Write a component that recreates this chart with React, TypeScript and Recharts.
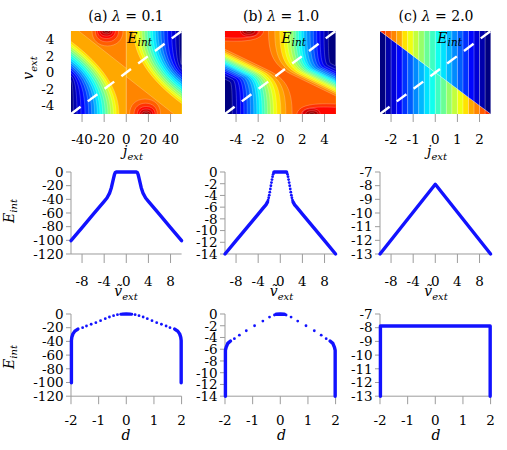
import React from 'react';
import { ScatterChart, Scatter, XAxis, YAxis } from 'recharts';

const SERIF = '"DejaVu Serif", serif';
const GRAY = '#9c9c9c';
const BLUE = '#1212ff';

// discrete jet palette: level 0 (navy) ... 23 (dark red)
const JET = ['#000080', '#0000ac', '#0000d8', '#0006ff', '#0032ff', '#005eff', '#008bff', '#00b7ff', '#00e3ff', '#11ffee', '#3dffc2', '#69ff96', '#96ff69', '#c2ff3d', '#eeff11', '#ffe300', '#ffa800', '#ff8500', '#ff5e00', '#ff3200', '#ff0600', '#d80000', '#ac0000', '#800000'];

type P3 = [number, number, number];
type Region = { level: number; pts: P3[] };

// ---------------- (a) lambda = 0.1 : j_ext in [-50,50], v_ext in [-5,5]
const aJ: [number, number] = [-50, 50];
const aV: [number, number] = [-5, 5];
// contour levels 1..16, left half (j < 0): crossing of left edge, foot on bottom edge, bend height
const aLowEdgeV = [-0.93, -0.4, -0.04, 0.28, 0.57, 0.85, 1.14, 1.42, 1.71, 2.0, 2.28, 2.56, 2.85, 3.13, 3.41, 3.74];
const aLowFootJ = [-47.9, -44.6, -41.0, -37.3, -34.0, -31.3, -28.6, -26.2, -23.8, -21.4, -19.0, -16.6, -14.2, -11.7, -9.3, -6.6];
const aLowBendV = [-1.14, -0.94, -0.94, -0.99, -1.03, -1.02, -1.0, -0.96, -0.91, -0.86, -0.82, -0.78, -0.73, -0.7, -0.66, -0.6];
// contour levels 1..16, right half (j > 0): crossing of right edge, head on top edge, bend height
const aHighEdgeV = [0.93, 0.4, 0.04, -0.28, -0.57, -0.85, -1.14, -1.42, -1.71, -2.0, -2.28, -2.56, -2.85, -3.13, -3.41, -3.74];
const aHighHeadJ = [47.9, 44.6, 41.0, 37.3, 34.0, 31.3, 28.6, 26.2, 23.8, 21.4, 19.0, 16.6, 14.2, 11.7, 9.3, 6.6];
const aHighBendV = [1.14, 0.94, 0.94, 0.99, 1.03, 1.02, 1.0, 0.96, 0.91, 0.86, 0.82, 0.78, 0.73, 0.7, 0.66, 0.6];
// level 17 plateau edges
const aRidgeLeft = [[-43, 5], [0, 0.5]];
const aRidgeRight = [[0, -0.5], [43, -5]];
// levels 18..23 peaks: [from j, to j, depth v]
const aPeaksTop = [[-31, -3, 3.2], [-28, -7, 3.7], [-26, -10, 4.1], [-24, -12, 4.4], [-22, -14, 4.65], [-20, -16, 4.85]];
const aPeaksBottom = [[3, 31, -3.2], [7, 28, -3.7], [10, 26, -4.1], [12, 24, -4.4], [14, 22, -4.65], [16, 20, -4.85]];
const aDash = [[-50, -5], [50, 5]];

// ---------------- (b) lambda = 1.0 : j_ext in [-5,5], v_ext in [-5,5]
const bJ: [number, number] = [-5, 5];
const bV: [number, number] = [-5, 5];
const bLowEdgeV = [-0.8, -0.4, -0.1, 0.15, 0.35, 0.55, 0.77, 0.95, 1.1, 1.28, 1.45, 1.62, 1.79, 1.95, 2.15, 2.35, 2.55, 2.8];
const bLowFootJ = [-4.34, -3.95, -3.59, -3.29, -2.99, -2.69, -2.39, -2.12, -1.88, -1.64, -1.4, -1.16, -0.89, -0.62, -0.32, 0.05, 0.5, 1.07];
const bLowBendV = [-1.23, -1.08, -1.02, -0.96, -0.96, -0.95, -0.93, -0.92, -0.93, -0.9, -0.89, -0.88, -0.88, -0.9, -0.89, -0.91, -1.0, -1.12];
const bHighEdgeV = [0.8, 0.4, 0.1, -0.15, -0.35, -0.55, -0.77, -0.95, -1.1, -1.28, -1.45, -1.62, -1.79, -1.95, -2.15, -2.35, -2.55, -2.8];
const bHighHeadJ = [4.34, 3.95, 3.59, 3.29, 2.99, 2.69, 2.39, 2.12, 1.88, 1.64, 1.4, 1.16, 0.89, 0.62, 0.32, -0.05, -0.5, -1.07];
const bHighBendV = [1.23, 1.08, 1.02, 0.96, 0.96, 0.95, 0.93, 0.92, 0.93, 0.9, 0.89, 0.88, 0.88, 0.9, 0.89, 0.91, 1.0, 1.12];
// levels 19, 20 corner lobes: [edge j on top/bottom, bend j, bend v, side edge v]
const bLobeTop = [[-1.5, -1.7, 3.6, 3.8], [-1.9, -2.0, 4.0, 4.2]];
const bLobeBottom = [[1.5, 1.7, -3.6, -3.8], [1.9, 2.0, -4.0, -4.2]];
// levels 21..23 peaks
const bPeaksTop = [[-3.6, -2.0, 4.35], [-3.4, -2.3, 4.6], [-3.1, -2.6, 4.85]];
const bPeaksBottom = [[2.0, 3.6, -4.35], [2.3, 3.4, -4.6], [2.6, 3.1, -4.85]];
const bDash = [[-5, -5], [5, 5]];

// ---------------- (c) lambda = 2.0 : j_ext in [-2.5,2.5], v_ext in [-5,5]
const cJ: [number, number] = [-2.5, 2.5];
const cV: [number, number] = [-5, 5];
const cEdges = [-2.5, -2.25, -2, -1.75, -1.5, -1.25, -1, -0.75, -0.5, -0.25, 0, 0.25, 0.5, 0.75, 1, 1.25, 1.5, 1.75, 2, 2.25, 2.5];
const cBelow = [0, 1, 2, 3, 4, 5, 6, 7, 8, 9, 10, 11, 12, 13, 14, 15, 16, 17, 18, 19];
const cAbove = [19, 18, 17, 16, 15, 14, 13, 12, 11, 10, 9, 8, 7, 6, 5, 4, 3, 2, 1, 0];
const cSplit = [[-2.5, 5], [2.5, -5]];
const cDash = [[-2.5, -5], [2.5, 5]];

// ---------------- E_int curves against v~_ext
const midALine = [[-10, -100.5], [-8, -81.3], [-6, -62.1], [-4, -42.9], [-3.5, -38], [-3, -30.5], [-2.7, -23], [-2.5, -16], [-2.3, -9], [-2.15, -4], [-2, -1], [-1.85, 0], [1.85, 0], [2, -1], [2.15, -4], [2.3, -9], [2.5, -16], [2.7, -23], [3, -30.5], [3.5, -38], [4, -42.9], [6, -62.1], [8, -81.3], [10, -100.5]];
const midBLeft = [[-10, -14], [-8, -11.73], [-6, -9.46], [-4, -7.19], [-3, -6.05], [-2.6, -5.6], [-2.3, -5.1]];
const midBTop = [[-1.12, 0], [1.12, 0]];
const midBRight = [[2.3, -5.1], [2.6, -5.6], [3, -6.05], [4, -7.19], [6, -9.46], [8, -11.73], [10, -14]];
const midBDots = [[-2.2, -4.8], [-2.1, -4.4], [-2.0, -3.95], [-1.9, -3.45], [-1.8, -2.9], [-1.7, -2.35], [-1.6, -1.8], [-1.5, -1.3], [-1.4, -0.8], [-1.3, -0.4], [-1.2, -0.12], [1.2, -0.12], [1.3, -0.4], [1.4, -0.8], [1.5, -1.3], [1.6, -1.8], [1.7, -2.35], [1.8, -2.9], [1.9, -3.45], [2.0, -3.95], [2.1, -4.4], [2.2, -4.8]];
const midCLine = [[-10, -13], [0, -7.9], [10, -13]];

// ---------------- E_int against d
const botALeft = [[-1.985, -100.5], [-1.985, -38.8], [-1.97, -34], [-1.93, -29], [-1.86, -25], [-1.75, -22]];
const botARight = [[1.75, -22], [1.86, -25], [1.93, -29], [1.97, -34], [1.985, -38.8], [1.985, -100.5]];
const botATop = [[-0.15, -0.15], [0, 0], [0.15, -0.15]];
const botADots = [[-1.58, -19.9], [-1.44, -17.5], [-1.27, -15], [-1.1, -12.6], [-0.93, -9.7], [-0.76, -6.8], [-0.61, -4.4], [-0.46, -2.4], [-0.32, -1.0], [-0.2, -0.4], [0.2, -0.4], [0.32, -1.0], [0.46, -2.4], [0.61, -4.4], [0.76, -6.8], [0.93, -9.7], [1.1, -12.6], [1.27, -15], [1.44, -17.5], [1.58, -19.9]];
const botBLeft = [[-1.985, -14], [-1.985, -6.2], [-1.96, -5.67], [-1.9, -5.0], [-1.8, -4.6]];
const botBRight = [[1.8, -4.6], [1.9, -5.0], [1.96, -5.67], [1.985, -6.2], [1.985, -14]];
const botBTop = [[-0.15, -0.05], [0, 0], [0.15, -0.05]];
const botBDots = [[-1.66, -4.2], [-1.48, -3.6], [-1.23, -2.85], [-0.93, -2.0], [-0.63, -1.2], [-0.39, -0.52], [-0.21, -0.17], [0.21, -0.17], [0.39, -0.52], [0.63, -1.2], [0.93, -2.0], [1.23, -2.85], [1.48, -3.6], [1.66, -4.2]];
const botCLine = [[-1.985, -13], [-1.985, -7.88], [1.985, -7.88], [1.985, -13]];

// ---------------- tick values
const aJTicks = [-40, -20, 0, 20, 40];
const bJTicks = [-4, -2, 0, 2, 4];
const cJTicks = [-2, -1, 0, 1, 2];
const vTicks = [-4, -2, 0, 2, 4];
const vtTicks = [-8, -4, 0, 4, 8];
const dTicks = [-2, -1, 0, 1, 2];
const eTicksA = [-120, -100, -80, -60, -40, -20, 0];
const eTicksB = [-14, -12, -10, -8, -6, -4, -2, 0];
const eTicksC = [-13, -12, -11, -10, -9, -8, -7];

// ---------------- region construction
function rect(j: [number, number], v: [number, number]): P3[] {
  return [[j[0], v[0], 0], [j[1], v[0], 0], [j[1], v[1], 0], [j[0], v[1], 0]];
}
function peak(jA: number, jB: number, d: number, edge: number): P3[] {
  return [[jA, edge, 0], [jA, d, 0.6], [(jA + jB) / 2, d, 0], [jB, d, 0.6], [jB, edge, 0]];
}
// straight run from s toward the bend c, then a rounded turn into e
function bentContour(s: number[], c: number[], e: number[], run: number, a: number): P3[] {
  const d = [c[0] + run * (s[0] - c[0]), c[1] + run * (s[1] - c[1])];
  return [[s[0], s[1], 0], [d[0], d[1], 0], [c[0], c[1], a], [e[0], e[1], 0]];
}

const aRegions: Region[] = [{ level: 0, pts: rect(aJ, aV) }];
aLowEdgeV.forEach((ev, i) => {
  aRegions.push({ level: i + 1, pts: [[aJ[0], aV[1], 0], [aJ[0], ev, 0], [aLowFootJ[i], aLowBendV[i], 0.67], [aLowFootJ[i], aV[0], 0], [0, aV[0], 0], [0, aV[1], 0]] });
  aRegions.push({ level: i + 1, pts: [[0, aV[1], 0], [aHighHeadJ[i], aV[1], 0], [aHighHeadJ[i], aHighBendV[i], 0.67], [aJ[1], aHighEdgeV[i], 0], [aJ[1], aV[0], 0], [0, aV[0], 0]] });
});
aRegions.push({ level: 17, pts: [[aRidgeLeft[0][0], aRidgeLeft[0][1], 0], [aRidgeLeft[1][0], aRidgeLeft[1][1], 0], [0, aV[1], 0]] });
aRegions.push({ level: 17, pts: [[aRidgeRight[0][0], aRidgeRight[0][1], 0], [aRidgeRight[1][0], aRidgeRight[1][1], 0], [0, aV[0], 0]] });
aPeaksTop.forEach((p, i) => {
  aRegions.push({ level: 18 + i, pts: peak(p[0], p[1], p[2], aV[1]) });
  const q = aPeaksBottom[i];
  aRegions.push({ level: 18 + i, pts: peak(q[0], q[1], q[2], aV[0]) });
});

const bRegions: Region[] = [{ level: 0, pts: rect(bJ, bV) }];
bLowEdgeV.forEach((ev, i) => {
  const lower = bentContour([bJ[0], ev], [bLowFootJ[i], bLowBendV[i]], [bLowFootJ[i], bV[0]], 0.35, 0.75);
  const upper = bentContour([bJ[1], bHighEdgeV[i]], [bHighHeadJ[i], bHighBendV[i]], [bHighHeadJ[i], bV[1]], 0.35, 0.75);
  bRegions.push({ level: i + 1, pts: [[bJ[0], bV[1], 0], ...lower, [bJ[1], bV[0], 0], ...upper] });
});
bLobeTop.forEach((p, i) => {
  bRegions.push({ level: 19 + i, pts: [[bJ[0], bV[1], 0], [p[0], bV[1], 0], [p[1], p[2], 0.7], [bJ[0], p[3], 0]] });
  const q = bLobeBottom[i];
  bRegions.push({ level: 19 + i, pts: [[bJ[1], bV[0], 0], [q[0], bV[0], 0], [q[1], q[2], 0.7], [bJ[1], q[3], 0]] });
});
bPeaksTop.forEach((p, i) => {
  bRegions.push({ level: 21 + i, pts: peak(p[0], p[1], p[2], bV[1]) });
  const q = bPeaksBottom[i];
  bRegions.push({ level: 21 + i, pts: peak(q[0], q[1], q[2], bV[0]) });
});

function splitAt(j: number) {
  const [[j0, v0], [j1, v1]] = cSplit;
  return v0 + ((j - j0) * (v1 - v0)) / (j1 - j0);
}
const cRegions: Region[] = [];
cBelow.forEach((lvl, i) => {
  const j0 = cEdges[i];
  const j1 = cEdges[i + 1];
  cRegions.push({ level: lvl, pts: [[j0, cV[0], 0], [j1, cV[0], 0], [j1, splitAt(j1), 0], [j0, splitAt(j0), 0]] });
  cRegions.push({ level: cAbove[i], pts: [[j0, splitAt(j0), 0], [j1, splitAt(j1), 0], [j1, cV[1], 0], [j0, cV[1], 0]] });
});

// ---------------- drawing helpers
const NoDot = () => <g />;
const Dot = (p: any) => <circle cx={p.cx} cy={p.cy} r={1.4} fill={BLUE} />;

function RegionPath(props: any) {
  const { points, spec, color, xb, yb, seams, outline } = props;
  const p: { x: number; y: number }[] = points || [];
  const n = p.length;
  if (n < 3) return <g />;
  const onEdge = (a: P3, b: P3) =>
    (a[0] === b[0] && (a[0] === xb[0] || a[0] === xb[1] || seams.includes(a[0]))) ||
    (a[1] === b[1] && (a[1] === yb[0] || a[1] === yb[1]));
  let fill = `M${p[0].x},${p[0].y}`;
  let line = '';
  let pen = false;
  let i = 1;
  while (i < n) {
    const a = spec[i][2];
    if (a > 0 && i + 1 < n) {
      const S = p[i - 1];
      const C = p[i];
      const E = p[i + 1];
      const seg = `C${S.x + a * (C.x - S.x)},${S.y + a * (C.y - S.y)} ${E.x + a * (C.x - E.x)},${E.y + a * (C.y - E.y)} ${E.x},${E.y}`;
      fill += seg;
      line += (pen ? '' : `M${S.x},${S.y}`) + seg;
      pen = true;
      i += 2;
    } else {
      const seg = `L${p[i].x},${p[i].y}`;
      fill += seg;
      if (!onEdge(spec[i - 1], spec[i])) {
        line += (pen ? '' : `M${p[i - 1].x},${p[i - 1].y}`) + seg;
        pen = true;
      } else pen = false;
      i += 1;
    }
  }
  if (!onEdge(spec[n - 1], spec[0])) line += (pen ? '' : `M${p[n - 1].x},${p[n - 1].y}`) + `L${p[0].x},${p[0].y}`;
  fill += 'Z';
  return (
    <g>
      <path d={fill} fill={color} stroke="none" />
      {outline && line ? <path d={line} fill="none" stroke="#ffffff" strokeOpacity={0.4} strokeWidth={0.55} /> : null}
    </g>
  );
}

function regionSeries(regions: Region[], xb: number[], yb: number[], seams: number[], outline: boolean, key: string) {
  return regions.map((r, idx) => (
    <Scatter
      key={key + idx}
      data={r.pts.map(([x, y]) => ({ x, y }))}
      shape={NoDot}
      isAnimationActive={false}
      line={<RegionPath spec={r.pts} color={JET[r.level]} xb={xb} yb={yb} seams={seams} outline={outline} />}
    />
  ));
}

function toXY(arr: number[][]) {
  return arr.map(([x, y]) => ({ x, y }));
}
function thinLine(arr: number[][], key: string, stroke: string, width: number, extra: any = {}) {
  return <Scatter key={key} data={toXY(arr)} shape={NoDot} isAnimationActive={false} line={{ stroke, strokeWidth: width, ...extra }} />;
}
function thickCurve(arr: number[][], key: string) {
  return <Scatter key={key} data={toXY(arr)} shape={NoDot} isAnimationActive={false} line={{ stroke: BLUE, strokeWidth: 3.4, strokeLinecap: 'round', strokeLinejoin: 'round' }} />;
}
function dots(arr: number[][], key: string) {
  return <Scatter key={key} data={toXY(arr)} shape={Dot} isAnimationActive={false} />;
}

// ---------------- panel frame
const COLS = [70.7, 225.4, 380.4];
const PW = 110.6;
const ML = 70;
const MT = 14;
const MR = 8;
const XH = 44;
const TICK_FONT = 13.5;

const makeXTick = (off: number) => (props: any) => (
  <text x={props.x} y={props.y + off} textAnchor="middle" fontFamily={SERIF} fontSize={TICK_FONT} fill="#000">
    {String(props.payload.value)}
  </text>
);
const YTick = (props: any) => (
  <text x={props.x} y={props.y + 4.8} textAnchor="end" fontFamily={SERIF} fontSize={TICK_FONT} fill="#000">
    {String(props.payload.value)}
  </text>
);

type PanelProps = {
  left: number;
  top: number;
  h: number;
  xDomain: [number, number];
  xTicks: number[];
  yDomain: [number, number];
  yTicks: number[];
  xTickSize: number;
  xLabelOff: number;
  showY: boolean;
  yTickLine: boolean;
  yTickMargin: number;
  axisLines: boolean;
  children: React.ReactNode;
};

function Panel(p: PanelProps) {
  return (
    <div style={{ position: 'absolute', left: p.left - ML, top: p.top - MT }}>
      <ScatterChart width={PW + ML + MR} height={p.h + MT + XH} margin={{ top: MT, right: MR, bottom: 0, left: 0 }}>
        <XAxis
          type="number"
          dataKey="x"
          domain={p.xDomain}
          ticks={p.xTicks}
          interval={0}
          height={XH}
          axisLine={p.axisLines ? { stroke: GRAY } : false}
          tickLine={{ stroke: GRAY }}
          tickSize={p.xTickSize}
          tickMargin={0}
          tick={makeXTick(p.xLabelOff)}
        />
        <YAxis
          type="number"
          dataKey="y"
          domain={p.yDomain}
          ticks={p.yTicks}
          interval={0}
          width={ML}
          axisLine={p.axisLines ? { stroke: GRAY } : false}
          tickLine={p.yTickLine ? { stroke: GRAY } : false}
          tickSize={5}
          tickMargin={p.yTickMargin}
          tick={p.showY ? YTick : false}
        />
        {p.children}
      </ScatterChart>
    </div>
  );
}

const HEAT_TOP = 31;
const HEAT_H = 83;
const MID_TOP = 172.3;
const MID_H = 82;
const BOT_TOP = 313.5;
const BOT_H = 82.2;

function heatProps(col: number, xDomain: [number, number], xTicks: number[], showY: boolean) {
  return {
    left: COLS[col], top: HEAT_TOP, h: HEAT_H, xDomain, xTicks, yDomain: [-5, 5] as [number, number], yTicks: vTicks,
    xTickSize: 8, xLabelOff: 22, showY, yTickLine: false, yTickMargin: 11.7, axisLines: false,
  };
}
function lineProps(col: number, top: number, h: number, xDomain: [number, number], xTicks: number[], yDomain: [number, number], yTicks: number[], xTickSize: number, xLabelOff: number) {
  return { left: COLS[col], top, h, xDomain, xTicks, yDomain, yTicks, xTickSize, xLabelOff, showY: true, yTickLine: true, yTickMargin: 2.4, axisLines: true };
}

function Sub({ x, y, main, sub, size = 14, subSize = 10, anchor = 'start', rotate = false, drop = 3.5 }: any) {
  const t = rotate ? `translate(${x},${y}) rotate(-90)` : undefined;
  return (
    <text x={rotate ? 0 : x} y={rotate ? 0 : y} transform={t} textAnchor={anchor} fontFamily={SERIF} fontStyle="italic" fontSize={size} fill="#000">
      {main}
      <tspan fontSize={subSize} dy={drop}>{sub}</tspan>
    </text>
  );
}

function Title({ x, tag, val }: { x: number; tag: string; val: string }) {
  return (
    <text x={x} y={21} textAnchor="middle" fontFamily={SERIF} fontSize={14} fill="#000">
      {tag + ' '}
      <tspan fontStyle="italic">λ</tspan>
      {' = ' + val}
    </text>
  );
}

export default function App() {
  return (
    <div style={{ position: 'absolute', left: 0, top: 0, width: 507, height: 450, background: '#fff', overflow: 'hidden' }}>
      <Panel {...heatProps(0, aJ, aJTicks, true)}>
        {regionSeries(aRegions, aJ, aV, [0], true, 'a')}
        {thinLine([[0, -5], [0, 5]], 'aseam', '#ffffff', 0.7, { strokeOpacity: 0.5 })}
        {thinLine(aDash, 'adash', '#ffffff', 2.4, { strokeDasharray: '12 9' })}
      </Panel>
      <Panel {...heatProps(1, bJ, bJTicks, false)}>
        {regionSeries(bRegions, bJ, bV, [], true, 'b')}
        {thinLine(bDash, 'bdash', '#ffffff', 2.4, { strokeDasharray: '12 9' })}
      </Panel>
      <Panel {...heatProps(2, cJ, cJTicks, false)}>
        {regionSeries(cRegions, cJ, cV, [], false, 'c')}
        {cEdges.slice(1, -1).map((e, i) => thinLine([[e, -5], [e, 5]], 'csep' + i, '#ffffff', 0.6, { strokeOpacity: 0.45 }))}
        {thinLine(cSplit, 'csplit', '#ffffff', 0.7, { strokeOpacity: 0.5 })}
        {thinLine(cDash, 'cdash', '#ffffff', 2.4, { strokeDasharray: '12 9' })}
      </Panel>

      <Panel {...lineProps(0, MID_TOP, MID_H, [-10, 10], vtTicks, [-120, 0], eTicksA, 9, 23.4)}>
        {thickCurve(midALine, 'ma')}
      </Panel>
      <Panel {...lineProps(1, MID_TOP, MID_H, [-10, 10], vtTicks, [-14, 0], eTicksB, 9, 23.4)}>
        {thickCurve(midBLeft, 'mbl')}
        {thickCurve(midBTop, 'mbt')}
        {thickCurve(midBRight, 'mbr')}
        {dots(midBDots, 'mbd')}
      </Panel>
      <Panel {...lineProps(2, MID_TOP, MID_H, [-10, 10], vtTicks, [-13, -7], eTicksC, 9, 23.4)}>
        {thickCurve(midCLine, 'mc')}
      </Panel>

      <Panel {...lineProps(0, BOT_TOP, BOT_H, [-2, 2], dTicks, [-120, 0], eTicksA, 8, 21.3)}>
        {thickCurve(botALeft, 'bal')}
        {thickCurve(botARight, 'bar')}
        {thickCurve(botATop, 'bat')}
        {dots(botADots, 'bad')}
      </Panel>
      <Panel {...lineProps(1, BOT_TOP, BOT_H, [-2, 2], dTicks, [-14, 0], eTicksB, 8, 21.3)}>
        {thickCurve(botBLeft, 'bbl')}
        {thickCurve(botBRight, 'bbr')}
        {thickCurve(botBTop, 'bbt')}
        {dots(botBDots, 'bbd')}
      </Panel>
      <Panel {...lineProps(2, BOT_TOP, BOT_H, [-2, 2], dTicks, [-13, -7], eTicksC, 8, 21.3)}>
        {thickCurve(botCLine, 'bc')}
      </Panel>

      <svg width={507} height={450} style={{ position: 'absolute', left: 0, top: 0, pointerEvents: 'none' }}>
        <Title x={126} tag="(a)" val="0.1" />
        <Title x={281} tag="(b)" val="1.0" />
        <Title x={436} tag="(c)" val="2.0" />
        <Sub x={127.3} y={43} main="E" sub="int" size={14} subSize={10.5} drop={3} />
        <Sub x={281.3} y={43} main="E" sub="int" size={14} subSize={10.5} drop={3} />
        <Sub x={437.3} y={43} main="E" sub="int" size={14} subSize={10.5} drop={3} />
        <Sub x={33} y={68} main="v" sub="ext" anchor="middle" rotate />
        <Sub x={133} y={156} main="j" sub="ext" anchor="middle" />
        <Sub x={437} y={156} main="j" sub="ext" anchor="middle" />
        <Sub x={126} y={296} main="ṽ" sub="ext" anchor="middle" />
        <Sub x={281.5} y={296} main="ṽ" sub="ext" anchor="middle" />
        <Sub x={436} y={296} main="ṽ" sub="ext" anchor="middle" />
        <Sub x={13.5} y={211} main="E" sub="int" anchor="middle" rotate />
        <Sub x={13.5} y={357} main="E" sub="int" anchor="middle" rotate />
        <text x={126} y={440} textAnchor="middle" fontFamily={SERIF} fontStyle="italic" fontSize={14}>d</text>
        <text x={281.5} y={440} textAnchor="middle" fontFamily={SERIF} fontStyle="italic" fontSize={14}>d</text>
        <text x={436} y={440} textAnchor="middle" fontFamily={SERIF} fontStyle="italic" fontSize={14}>d</text>
      </svg>
    </div>
  );
}
